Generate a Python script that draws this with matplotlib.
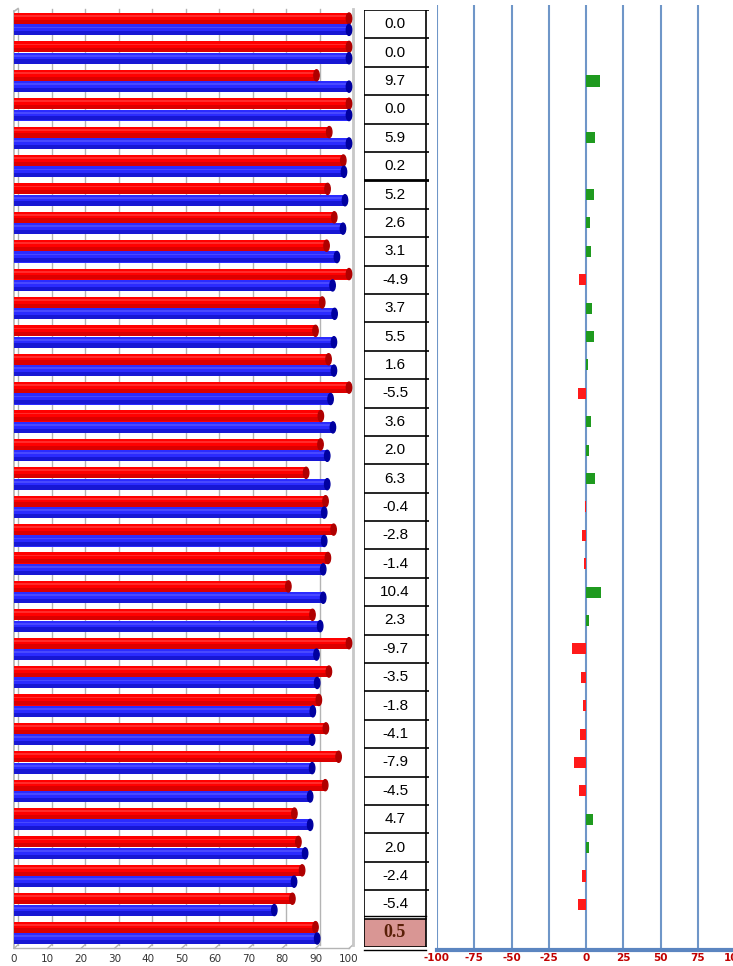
import numpy as np
import matplotlib.pyplot as plt
from matplotlib.patches import Ellipse, Rectangle

# values, top row first
red_vals = [100, 100, 90.3, 100, 94.1, 98.3, 93.6, 95.6, 93.3, 100, 92.0, 90.0, 93.9, 100, 91.6,
            91.5, 87.2, 93.0, 95.4, 93.7, 81.9, 89.1, 100, 94.0, 91.0, 93.1, 96.9, 92.9, 83.7,
            84.9, 86.0, 83.1, 90.0]
blue_vals = [100, 100, 100, 100, 100, 98.5, 98.8, 98.2, 96.4, 95.1, 95.7, 95.5, 95.5, 94.5, 95.2,
             93.5, 93.5, 92.6, 92.6, 92.3, 92.3, 91.4, 90.3, 90.5, 89.2, 89.0, 89.0, 88.4, 88.4,
             86.9, 83.6, 77.7, 90.5]
diff_vals = [0.0, 0.0, 9.7, 0.0, 5.9, 0.2, 5.2, 2.6, 3.1, -4.9, 3.7, 5.5, 1.6, -5.5, 3.6, 2.0, 6.3,
             -0.4, -2.8, -1.4, 10.4, 2.3, -9.7, -3.5, -1.8, -4.1, -7.9, -4.5, 4.7, 2.0, -2.4, -5.4, 0.5]
left_ticks = [0, 10, 20, 30, 40, 50, 60, 70, 80, 90, 100]
right_ticks = [-100, -75, -50, -25, 0, 25, 50, 75, 100]

n = len(red_vals)
rows = np.arange(n) + 0.5

W, H = 733, 966
fig = plt.figure(figsize=(W / 100, H / 100), dpi=100)


def px_axes(x0, y0, x1, y1):
    return fig.add_axes([x0 / W, 1 - y1 / H, (x1 - x0) / W, (y1 - y0) / H])


# ---- left: pseudo 3D cylinder bars ----
ax = px_axes(14, 10, 349, 947)
ax.set_xlim(0, 100)
ax.set_ylim(n, 0)
depth = 1.2
for t in left_ticks:
    ax.plot([t + depth, t + depth], [-0.05, n - 0.08], color='#b4b4b4', lw=1, clip_on=False, zorder=0)
    ax.plot([t, t + depth], [n + 0.05, n - 0.08], color='#b4b4b4', lw=1, clip_on=False, zorder=0)
ax.plot([0, 0], [0.05, n + 0.05], color='#b4b4b4', lw=1.2, clip_on=False)
ax.plot([0, depth], [0.05, -0.05], color='#b4b4b4', lw=1.2, clip_on=False)
ax.plot([100 + depth, 100 + depth], [-0.05, n - 0.08], color='#c8c8c8', lw=2, clip_on=False)
ax.plot([0, 100], [n + 0.05, n + 0.05], color='#b4b4b4', lw=1, clip_on=False)

h = 0.39


def cyl(vals, yc, main, dark, light):
    ax.barh(yc, vals, height=h, color=main, zorder=2)
    ax.barh(yc + h * 0.3, vals, height=h * 0.38, color=dark, alpha=0.45, zorder=3, lw=0)
    ax.barh(yc - h * 0.22, vals, height=h * 0.16, color=light, alpha=0.3, zorder=3, lw=0)
    for v, y in zip(vals, yc):
        ax.add_patch(Ellipse((v, y), 1.6, h, color=dark, zorder=4, clip_on=False))


cyl(red_vals, rows - 0.2, '#ff0000', '#b00000', '#ff9090')
cyl(blue_vals, rows + 0.2, '#2b2bff', '#0000a0', '#9090ff')

ax.set_xticks(left_ticks)
ax.set_xticklabels([str(t) for t in left_ticks], fontsize=7.5, color='#333333')
ax.tick_params(axis='x', length=0, pad=5)
ax.set_yticks([])
for s in ax.spines.values():
    s.set_visible(False)

# ---- middle: table of differences ----
tb = px_axes(364, 10, 429, 947)
tb.set_xlim(0, 65)
tb.set_ylim(n, 0)
tb.axis('off')
tb.add_patch(Rectangle((0, n - 1), 62, 1, color='#d99694', lw=0))
tb.plot([0, 0], [0, n], color='black', lw=1.2)
tb.plot([62, 62], [0, n], color='black', lw=1.2)
for i in range(n + 1):
    lw = 2 if i == 6 else 1.2
    tb.plot([0, 65 if i < n - 1 else 62], [i, i], color='black', lw=lw)
tb.plot([0, 62], [n - 1.08, n - 1.08], color='black', lw=1)
tb.plot([0, 62], [n + 0.1, n + 0.1], color='black', lw=1, clip_on=False)
for i, v in enumerate(diff_vals):
    if i < n - 1:
        tb.text(31, i + 0.5, f'{v:.1f}', ha='center', va='center', fontsize=11,
                family='Liberation Sans')
    else:
        tb.text(31, i + 0.5, f'{v:.1f}', ha='center', va='center', fontsize=13,
                family='Liberation Serif', fontweight='bold', color='#5a2008')

# ---- right: difference bars ----
ar = px_axes(437, 5, 735, 950)
ar.set_xlim(-100, 100)
ar.set_ylim(n + 0.106, -0.176)
for t in right_ticks:
    ar.axvline(t, color='#6f96c8', lw=1.5, zorder=0)
d = np.array(diff_vals[:-1])
cols = ['#1f9a1f' if v > 0 else '#ff1a1a' for v in d]
ar.barh(rows[:-1], d, height=0.39, color=cols, zorder=2)
ar.set_xticks(right_ticks)
ar.set_xticklabels([str(t) for t in right_ticks], fontsize=7.5, fontweight='bold', color='#c00000')
ar.tick_params(axis='x', length=0, pad=2)
ar.set_yticks([])
for k in ['top', 'left', 'right']:
    ar.spines[k].set_visible(False)
ar.spines['bottom'].set_color('#5b85c0')
ar.spines['bottom'].set_linewidth(3)

fig.savefig('out.png', dpi=100)
